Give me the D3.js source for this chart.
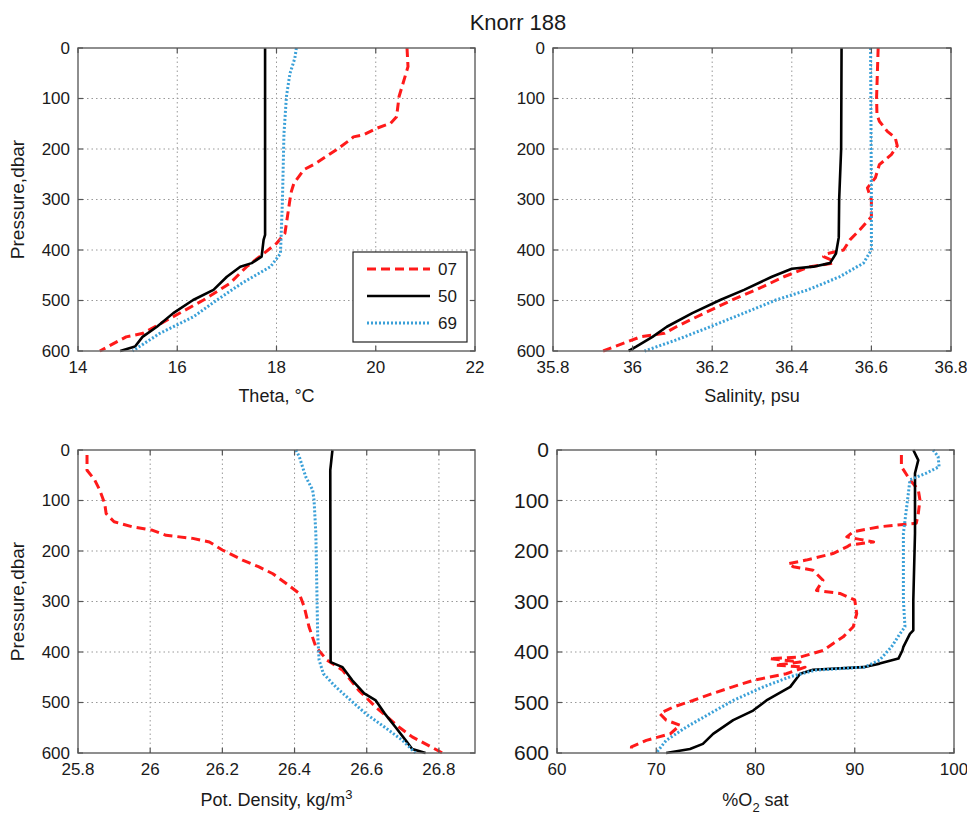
<!DOCTYPE html>
<html lang="en">
<head>
  <meta charset="UTF-8" />
  <title>Knorr 188</title>
  <script src="https://d3js.org/d3.v7.min.js"></script>
  <style>
    body { margin: 0; background: #fff; font-family: "Liberation Sans", Arial, sans-serif; }
    .grid line { stroke: #999; stroke-width: 1; stroke-dasharray: 1.5,3; }
    .frame { fill: none; stroke: #6a6a6a; stroke-width: 1.5; }
    .tick-mark { stroke: #555; stroke-width: 1.2; }
    text { fill: #1a1a1a; }
  </style>
</head>
<body>
  <svg id="chart" width="967" height="814"></svg>
  <script>
    // casts: 07 (red dashed), 50 (black), 69 (blue dotted)
    const castNames = ["07", "50", "69"];
    const pressureTicks = [0, 100, 200, 300, 400, 500, 600];

    // [pressure, value]
    const theta07 = [[0,20.63],[37,20.65],[96,20.47],[136,20.42],[149,20.3],[159,20.02],[172,19.75],[176,19.55],[182,19.48],[202,19.2],[228,18.8],[241,18.55],[268,18.35],[284,18.3],[301,18.27],[367,18.17],[387,18.0],[407,17.74],[433,17.4],[466,17.06],[499,16.53],[532,15.92],[565,15.31],[572,14.97],[600,14.44]];
    const theta50 = [[0,17.77],[370,17.77],[380,17.74],[413,17.7],[426,17.5],[433,17.27],[453,17.0],[479,16.73],[499,16.32],[525,15.92],[552,15.59],[572,15.3],[591,15.15],[600,14.85]];
    const theta69 = [[0,18.4],[20,18.37],[51,18.27],[96,18.2],[170,18.15],[301,18.12],[407,18.08],[433,17.88],[466,17.3],[499,16.8],[532,16.33],[565,15.65],[600,15.1]];
    const thetaTicks = [14, 16, 18, 20, 22];

    const sal07 = [[0,36.617],[99,36.613],[132,36.614],[145,36.62],[165,36.64],[178,36.66],[194,36.665],[211,36.65],[231,36.62],[257,36.61],[277,36.59],[301,36.6],[334,36.6],[360,36.571],[380,36.546],[400,36.53],[407,36.49],[413,36.48],[420,36.5],[426,36.505],[433,36.446],[453,36.38],[479,36.31],[499,36.25],[525,36.18],[552,36.11],[565,36.08],[572,36.02],[600,35.926]];
    const sal50 = [[0,36.525],[200,36.524],[300,36.519],[375,36.518],[407,36.511],[426,36.496],[433,36.454],[437,36.4],[453,36.35],[479,36.28],[499,36.22],[525,36.15],[552,36.086],[572,36.05],[591,36.01],[600,35.99]];
    const sal69 = [[0,36.598],[300,36.6],[400,36.6],[426,36.58],[453,36.52],[479,36.44],[499,36.36],[525,36.28],[552,36.195],[578,36.11],[600,36.03]];
    const salTicks = [35.8, 36, 36.2, 36.4, 36.6, 36.8];

    const dens07 = [[10,25.825],[40,25.825],[59,25.846],[79,25.86],[106,25.874],[126,25.878],[142,25.9],[152,25.95],[159,26.007],[169,26.044],[175,26.118],[182,26.164],[198,26.2],[218,26.256],[231,26.3],[245,26.34],[264,26.376],[284,26.413],[311,26.427],[350,26.44],[390,26.459],[416,26.49],[436,26.533],[476,26.578],[509,26.625],[549,26.69],[568,26.726],[600,26.81]];
    const dens50 = [[0,26.505],[20,26.502],[40,26.499],[420,26.5],[430,26.533],[456,26.56],[482,26.593],[496,26.625],[522,26.65],[549,26.68],[575,26.708],[592,26.726],[600,26.763]];
    const dens69 = [[0,26.404],[13,26.413],[53,26.431],[79,26.45],[99,26.454],[165,26.459],[364,26.464],[416,26.468],[443,26.48],[469,26.514],[496,26.556],[522,26.597],[549,26.65],[575,26.699],[600,26.735]];
    const densTicks = [25.8, 26, 26.2, 26.4, 26.6, 26.8];

    const o207 = [[10,94.7],[33,94.7],[59,95.56],[79,96.4],[99,96.57],[126,96.4],[145,96.2],[152,92.5],[162,89.85],[172,89.2],[177,90.5],[182,91.9],[188,89.5],[192,89.2],[205,87.8],[218,85.1],[225,83.3],[231,83.8],[238,85.8],[258,86.8],[278,86.15],[284,88.5],[297,90.0],[324,90.2],[350,89.85],[370,88.84],[383,87.83],[397,86.8],[410,84.5],[413,81.4],[420,84.5],[426,82],[430,85],[443,83.1],[456,79.8],[469,77.7],[482,75.7],[496,73.7],[509,71.7],[522,70.35],[535,71.0],[545,72.4],[562,71.4],[575,69.0],[588,67.5],[600,67.5]];
    const o250 = [[0,95.9],[20,96.4],[46,96.07],[165,96.07],[297,95.9],[357,95.9],[364,95.56],[390,94.9],[397,94.8],[413,94.4],[423,92.5],[430,90.86],[435,85.8],[443,84.5],[469,83.5],[496,81.1],[516,79.76],[535,77.75],[562,75.73],[582,74.7],[592,73.4],[600,71.0]];
    const o269 = [[0,97.9],[13,98.4],[33,98.5],[46,97.2],[59,95.56],[86,95.4],[165,94.9],[297,94.9],[350,95.06],[364,94.55],[390,93.7],[416,92.5],[430,91],[436,86],[449,83.5],[469,80.8],[496,77.75],[522,75.4],[549,73.0],[575,71.0],[600,70.0]];
    const o2Ticks = [60, 70, 80, 90, 100];

    const styles = [
      { color: "#ff1a1a", width: 3, dash: "9,5" },
      { color: "#000000", width: 2.6, dash: null },
      { color: "#3aa0d8", width: 3, dash: "2,2" }
    ];

    const svg = d3.select("#chart");

    svg.append("text")
      .attr("x", 518).attr("y", 30)
      .attr("text-anchor", "middle")
      .style("font-size", "22px")
      .text("Knorr 188");

    const panels = [
      { x0: 78, x1: 475, y0: 48, y1: 351, domain: [14, 22], ticks: thetaTicks, series: [theta07, theta50, theta69], ylabel: true, yFont: 17, label: "Theta, \u00B0C", labelY: 402, legend: true },
      { x0: 553, x1: 951, y0: 48, y1: 351, domain: [35.8, 36.8], ticks: salTicks, series: [sal07, sal50, sal69], ylabel: false, yFont: 17, label: "Salinity, psu", labelY: 402 },
      { x0: 78, x1: 475, y0: 450, y1: 753, domain: [25.8, 26.9], ticks: densTicks, series: [dens07, dens50, dens69], ylabel: true, yFont: 17, label: "density", labelY: 806 },
      { x0: 557, x1: 954, y0: 450, y1: 753, domain: [60, 100], ticks: o2Ticks, series: [o207, o250, o269], ylabel: false, yFont: 21, label: "o2", labelY: 806 }
    ];

    panels.forEach(p => {
      const x = d3.scaleLinear().domain(p.domain).range([p.x0, p.x1]);
      const y = d3.scaleLinear().domain([0, 600]).range([p.y0, p.y1]);
      const g = svg.append("g");

      // grid
      const grid = g.append("g").attr("class", "grid");
      grid.selectAll(".gx").data(p.ticks.filter(t => x(t) > p.x0 + 1 && x(t) < p.x1 - 1))
        .enter().append("line")
        .attr("x1", d => x(d)).attr("x2", d => x(d))
        .attr("y1", p.y0).attr("y2", p.y1);
      grid.selectAll(".gy").data(pressureTicks.slice(1, -1))
        .enter().append("line")
        .attr("x1", p.x0).attr("x2", p.x1)
        .attr("y1", d => y(d)).attr("y2", d => y(d));

      // profiles
      const line = d3.line().x(d => x(d[1])).y(d => y(d[0]));
      p.series.forEach((s, i) => {
        g.append("path")
          .datum(s)
          .attr("d", line)
          .attr("fill", "none")
          .attr("stroke", styles[i].color)
          .attr("stroke-width", styles[i].width)
          .attr("stroke-dasharray", styles[i].dash)
          .attr("stroke-linejoin", "round");
      });

      // frame and inward tick marks
      g.append("rect").attr("class", "frame")
        .attr("x", p.x0).attr("y", p.y0)
        .attr("width", p.x1 - p.x0).attr("height", p.y1 - p.y0);
      p.ticks.forEach(t => {
        g.append("line").attr("class", "tick-mark")
          .attr("x1", x(t)).attr("x2", x(t)).attr("y1", p.y1).attr("y2", p.y1 - 5);
        g.append("line").attr("class", "tick-mark")
          .attr("x1", x(t)).attr("x2", x(t)).attr("y1", p.y0).attr("y2", p.y0 + 5);
      });
      pressureTicks.forEach(t => {
        g.append("line").attr("class", "tick-mark")
          .attr("x1", p.x0).attr("x2", p.x0 + 5).attr("y1", y(t)).attr("y2", y(t));
        g.append("line").attr("class", "tick-mark")
          .attr("x1", p.x1).attr("x2", p.x1 - 5).attr("y1", y(t)).attr("y2", y(t));
      });

      // tick labels
      g.selectAll(".xl").data(p.ticks).enter().append("text")
        .attr("x", d => x(d)).attr("y", p.y1 + 22)
        .attr("text-anchor", "middle")
        .style("font-size", "17px")
        .text(d => d3.format("~g")(d));
      g.selectAll(".yl").data(pressureTicks).enter().append("text")
        .attr("x", p.x0 - 8).attr("y", d => y(d))
        .attr("dy", "0.35em")
        .attr("text-anchor", "end")
        .style("font-size", p.yFont + "px")
        .text(d => d);

      // axis labels
      const cx = (p.x0 + p.x1) / 2;
      const lab = g.append("text")
        .attr("x", cx).attr("y", p.labelY)
        .attr("text-anchor", "middle")
        .style("font-size", "18px");
      if (p.label === "density") {
        lab.append("tspan").text("Pot. Density, kg/m");
        lab.append("tspan").attr("dy", -7).style("font-size", "13px").text("3");
      } else if (p.label === "o2") {
        lab.append("tspan").text("%O");
        lab.append("tspan").attr("dy", 6).style("font-size", "13px").text("2");
        lab.append("tspan").attr("dy", -6).text(" sat");
      } else {
        lab.text(p.label);
      }
      if (p.ylabel) {
        g.append("text")
          .attr("transform", `translate(24, ${(p.y0 + p.y1) / 2}) rotate(-90)`)
          .attr("text-anchor", "middle")
          .style("font-size", "19px")
          .text("Pressure,dbar");
      }

      if (p.legend) {
        const lg = g.append("g").attr("transform", "translate(353, 252)");
        lg.append("rect").attr("width", 114).attr("height", 90)
          .attr("fill", "#fff").attr("stroke", "#222").attr("stroke-width", 1.2);
        castNames.forEach((n, i) => {
          const ly = 17 + i * 27;
          lg.append("line")
            .attr("x1", 14).attr("x2", 77).attr("y1", ly).attr("y2", ly)
            .attr("stroke", styles[i].color)
            .attr("stroke-width", styles[i].width)
            .attr("stroke-dasharray", styles[i].dash);
          lg.append("text").attr("x", 85).attr("y", ly).attr("dy", "0.35em")
            .style("font-size", "17px").text(n);
        });
      }
    });
  </script>
</body>
</html>
